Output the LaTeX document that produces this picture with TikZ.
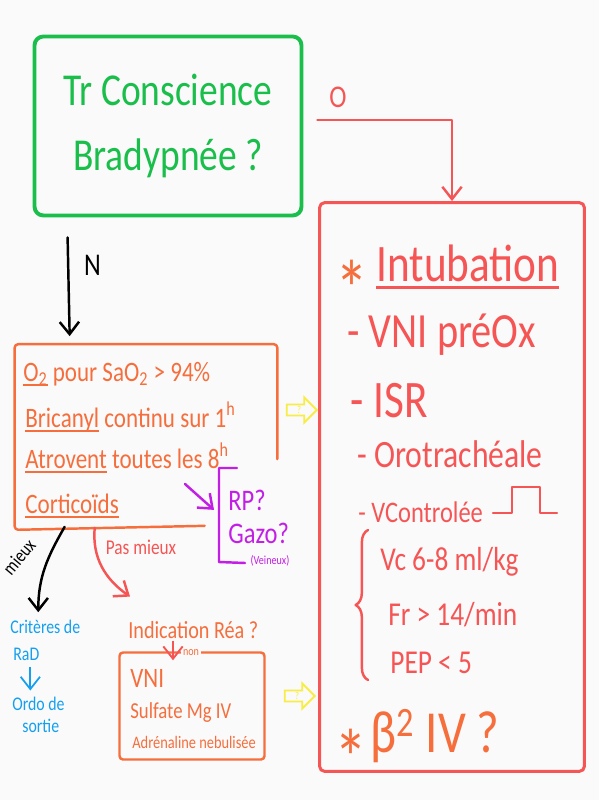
\documentclass[tikz,border=0pt]{standalone}
\usepackage{fontspec}
\setmainfont[FakeStretch=0.82]{Carlito}
\usepackage{xcolor}
\usepackage{tikz}
\usetikzlibrary{shapes.arrows, arrows.meta, positioning, calc,
                decorations.pathreplacing}
\definecolor{tcgreen}{RGB}{25, 190, 75}
\definecolor{intubred}{RGB}{245, 85, 85}
\definecolor{trtorange}{RGB}{245, 110, 60}
\definecolor{hintyellow}{RGB}{248, 236, 70}
\definecolor{gazopurple}{RGB}{195, 30, 230}
\definecolor{sortieblue}{RGB}{20, 160, 240}
\definecolor{paper}{RGB}{250, 250, 250}
% thick hand underline
\newcommand{\hul}[1]{\setbox0=\hbox{#1}\rlap{\rule[-0.16em]{\wd0}{0.07em}}\box0\relax}
% low asterisk
\newcommand{\lowstar}{\smash{\raisebox{-0.3em}{*}}}

\tikzset{
    >={Straight Barb[length=7pt, width=11pt]},
    pen/.style={line width=1.4pt, line cap=round, line join=round},
    hint/.style={single arrow, draw=hintyellow, line width=1.1pt,
        single arrow head extend=4pt, minimum height=0.6cm,
        minimum width=0.4cm, inner sep=0.5pt, text=hintyellow,
        font=\fontsize{6}{6}\selectfont},
    item/.style={anchor=base west, inner sep=0pt, text=intubred},
    trttext/.style={anchor=base west, inner sep=0pt, text=trtorange,
        font=\fontsize{16}{16}\selectfont},
    param/.style={anchor=base west, inner sep=0pt, text=intubred,
        font=\fontsize{19}{19}\selectfont},
    sortie/.style={anchor=base west, inner sep=0pt, text=sortieblue,
        font=\fontsize{11}{11}\selectfont},
    gz/.style={anchor=base west, inner sep=0pt, text=gazopurple,
        font=\fontsize{17}{17}\selectfont},
    starmark/.style={anchor=base, inner sep=0pt, text=trtorange,
        font=\fontsize{46}{46}\selectfont},
}

\begin{document}
\begin{tikzpicture}[x=0.02cm, y=-0.02cm]
    % Paper
    \fill[paper] (0,0) rectangle (599,800);
    \useasboundingbox (0,0) rectangle (599,800);
    % Question box
    \node[draw=tcgreen, line width=2.2pt, rounded corners=5pt,
          minimum width=5.34cm, minimum height=3.58cm, align=center,
          text=tcgreen, font=\fontsize{26}{37}\selectfont] (tc) at (168,126)
          {Tr Conscience\\Bradypnée ?};
    % Oui: intubation box
    \node[draw=intubred, line width=1.7pt, rounded corners=3pt,
          minimum width=5.3cm, minimum height=11.38cm] (intub) at (452,487) {};
    \node[text=intubred, font=\fontsize{18}{18}\selectfont] (oui) at (338,97) {O};
    \draw[pen, intubred, ->] ($(tc.east)+(14,-6)$) -| (intub.north);
    % Non: treatment box (open corner)
    \node[minimum width=5.24cm, minimum height=3.7cm] (trt) at (146,437) {};
    \draw[pen, trtorange, rounded corners=2pt] ($(trt.north east)+(0,115)$)
        -- (trt.north east) -- (trt.north west) -- (trt.south west) -- ++(190,-4);
    \draw[pen, ->] ($(tc.south west)+(35,20)$) -- ($(trt.north west)+(55,-8)$)
        node[pos=0.28, right=5pt, font=\fontsize{18}{18}\selectfont] (nlab) {N};
    \node[trttext] (o2) at (23,381) {\hul{O\textsubscript{2}} pour SaO\textsubscript{2} > 94\%};
    \node[trttext] (brica) at (25,427) {\hul{Bricanyl} continu sur 1\textsuperscript{h}};
    \node[trttext] (atro) at (25,468) {\hul{Atrovent} toutes les 8\textsuperscript{h}};
    \node[trttext] (cort) at (25,513) {\hul{Corticoïds}};
    \node[hint] (q1) at (299,410) {?};
    % RP / gazo
    \node[gz] (rp) at (228,510) {RP?};
    \node[gz] (gazo) at (228,543) {Gazo?};
    \node[text=gazopurple, font=\fontsize{7}{7}\selectfont] (vein) at (270,561) {(Veineux)};
    \draw[pen, gazopurple] (237,468) -- (219,468) -- (219,562) -- (245,563);
    \coordinate (cortend) at (185,484);
    \draw[pen, gazopurple, ->] (cortend) -- ($(rp.west)+(-14,10)$);
    % Mieux
    \node[sortie] (crit) at (10,633) {Critères de};
    \node[sortie] (rad) at (13,660) {RaD};
    \node[sortie] (ordo) at (12,710) {Ordo de};
    \node[sortie] (sortie) at (22,732) {sortie};
    \draw[line width=1pt, sortieblue, ->] ($(rad.south)+(4,6)$) -- ($(rad.south)+(4,30)$);
    \draw[pen, ->] ($(trt.south west)+(50,-3)$) to[out=-120, in=90]
        ($(crit.north)+(-7,-7)$);
    \node[rotate=50, inner sep=1pt, font=\fontsize{11}{11}\selectfont] (mx) at (19,557) {mieux};
    % Pas mieux
    \node[anchor=base west, inner sep=0pt, text=trtorange,
          font=\fontsize{14}{14}\selectfont] (indic) at (128,638) {Indication Réa ?};
    \draw[pen, intubred, ->] ($(trt.south west)+(80,-2)$) to[out=-95, in=145]
        ($(indic.north west)+(2,-24)$);
    \node[text=intubred, font=\fontsize{12}{12}\selectfont] (pm) at (141,547) {Pas mieux};
    \node[draw=trtorange, line width=1.4pt, rounded corners=2pt,
          minimum width=2.9cm, minimum height=2.14cm] (adj) at (192,706) {};
    \node[trttext] (vni) at (130,687) {VNI};
    \node[trttext, font=\fontsize{13}{13}\selectfont] (mg) at (130,718) {Sulfate Mg IV};
    \node[trttext, font=\fontsize{10}{10}\selectfont] (adr) at (132,748) {Adrénaline nebulisée};
    \node[fill=paper, inner sep=1pt, text=trtorange,
          font=\fontsize{7}{7}\selectfont] (nonlab) at (191,653) {non};
    \draw[line width=1.1pt, intubred, ->] ($(indic.south west)+(45,2)$) -- ($(adj.north)+(-19,9)$);
    \node[hint] (q2) at (297,696) {?};
    % Intubation contents
    \node[starmark] (st1) at (352,293) {\lowstar};
    \node[item, font=\fontsize{30}{30}\selectfont] (intubt) at (376,281) {\hul{Intubation}};
    \node[item, font=\fontsize{28}{28}\selectfont] (vnipre) at (347,347) {- VNI préOx};
    \node[item, font=\fontsize{30}{30}\selectfont] (isr) at (350,417) {- ISR};
    \node[item, font=\fontsize{22}{22}\selectfont] (orot) at (357,467) {- Orotrachéale};
    \node[item, font=\fontsize{17}{17}\selectfont] (vctrl) at (358,522) {- VControlée};
    \draw[pen, intubred] (493,513) -- (512,513) -- (512,487) -- (540,487)
        -- (540,513) -- (557,513);
    \draw[pen, intubred, decorate, decoration={brace, amplitude=7pt}] (368,680) -- (368,530);
    \node[param] (vc) at (380,570) {Vc 6-8 ml/kg};
    \node[param] (fr) at (388,625) {Fr > 14/min};
    \node[param] (pep) at (390,673) {PEP < 5};
    \node[starmark] (st2) at (351,762) {\lowstar};
    \node[item, text=trtorange, font=\fontsize{34}{34}\selectfont] (beta) at (370,752)
        {β\textsuperscript{2} IV ?};
\end{tikzpicture}
\end{document}
